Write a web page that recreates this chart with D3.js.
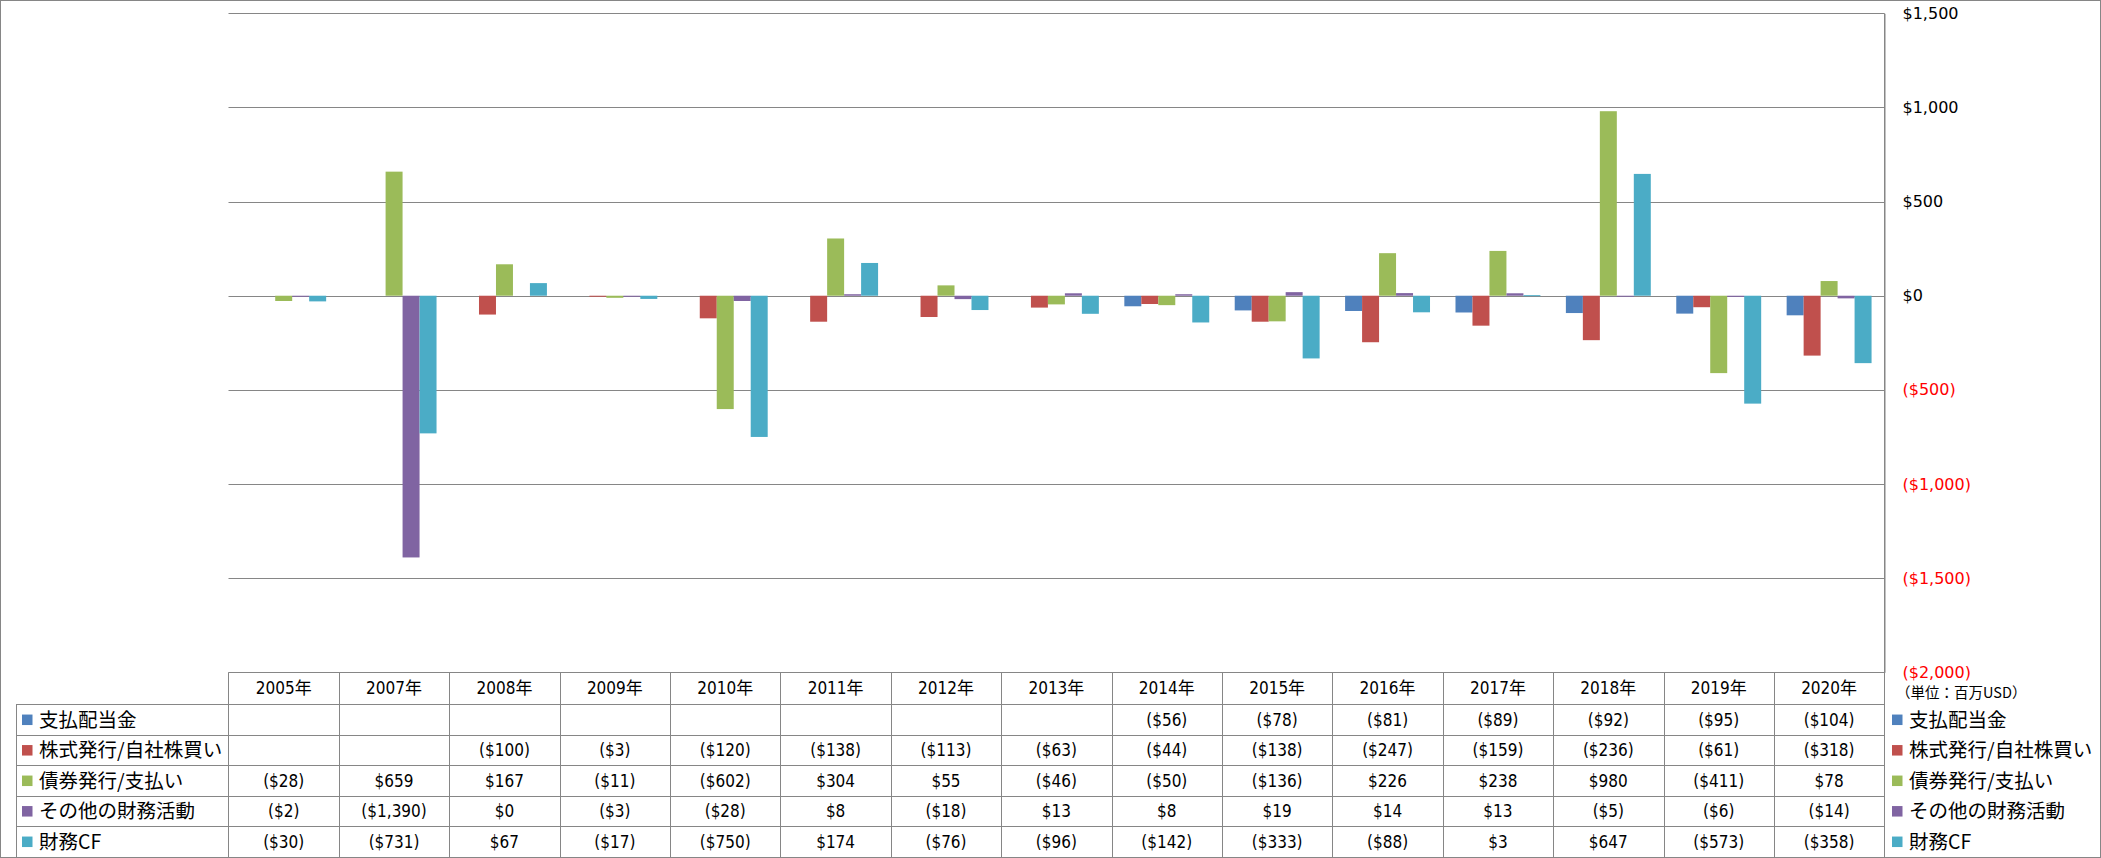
<!DOCTYPE html>
<html>
<head>
<meta charset="utf-8">
<script src="https://cdn.jsdelivr.net/npm/d3@7"></script>
<style>
body { margin: 0; background: #fff; }
svg { display: block; }
</style>
</head>
<body>
<svg></svg>
<script>
// chart values
const years = ['2005年', '2007年', '2008年', '2009年', '2010年', '2011年', '2012年', '2013年',
    '2014年', '2015年', '2016年', '2017年', '2018年', '2019年', '2020年'];
const seriesNames = ['支払配当金', '株式発行/自社株買い', '債券発行/支払い', 'その他の財務活動', '財務CF'];
const dividends = [null, null, null, null, null, null, null, null, -56, -78, -81, -89, -92, -95, -104];
const stockIssue = [null, null, -100, -3, -120, -138, -113, -63, -44, -138, -247, -159, -236, -61, -318];
const debtIssue = [-28, 659, 167, -11, -602, 304, 55, -46, -50, -136, 226, 238, 980, -411, 78];
const otherFinancing = [-2, -1390, 0, -3, -28, 8, -18, 13, 8, 19, 14, 13, -5, -6, -14];
const financingCF = [-30, -731, 67, -17, -750, 174, -76, -96, -142, -333, -88, 3, 647, -573, -358];
const tickValues = [-2000, -1500, -1000, -500, 0, 500, 1000, 1500];
const unitLabel = '（単位：百万USD）';

const seriesValues = [dividends, stockIssue, debtIssue, otherFinancing, financingCF];
const colors = ['#4F81BD', '#C0504D', '#9BBB59', '#8064A2', '#4BACC6'];

let width = 2101;
let height = 858;
let plotLeft = 228.5, plotRight = 1884.3, plotTop = 13.3, plotBottom = 672.3;
let headerBottom = 704.3;
let rowH = 30.5;
let gridColor = '#868686';
let narrow = '"Liberation Sans Narrow", "DejaVu Sans Condensed", "Noto Sans CJK JP", sans-serif';
let cjk = '"Noto Sans CJK JP", sans-serif';

let svg = d3.select('svg')
    .attr('width', width)
    .attr('height', height);

// outer frame
svg.append('rect')
    .attr('x', 0.5).attr('y', 0.5)
    .attr('width', width - 1).attr('height', height - 1)
    .attr('fill', 'none')
    .attr('stroke', gridColor);

// scales (Excel style gap width 150%)
let gap = 1.5 / 6.5;
let x = d3.scaleBand()
    .domain(years)
    .range([plotLeft, plotRight])
    .paddingInner(gap)
    .paddingOuter(gap / 2);
let xs = d3.scaleBand()
    .domain(d3.range(seriesNames.length))
    .range([0, x.bandwidth()]);
let y = d3.scaleLinear()
    .domain([-2000, 1500])
    .range([plotBottom, plotTop]);

// gridlines
svg.append('g')
    .selectAll('line')
    .data(tickValues)
    .enter()
    .append('line')
    .attr('x1', plotLeft).attr('x2', plotRight)
    .attr('y1', d => Math.round(y(d)) + 0.5)
    .attr('y2', d => Math.round(y(d)) + 0.5)
    .attr('stroke', gridColor);

// bars
let rows = years.map((yr, i) => ({ year: yr, values: seriesValues.map(s => s[i]) }));
let group = svg.append('g')
    .selectAll('g')
    .data(rows)
    .enter()
    .append('g')
    .attr('transform', d => `translate(${x(d.year)},0)`);

group.selectAll('rect')
    .data(d => d.values.map((v, j) => ({ v: v, j: j })).filter(e => e.v !== null))
    .enter()
    .append('rect')
    .attr('x', d => xs(d.j))
    .attr('width', xs.bandwidth())
    .attr('y', d => y(Math.max(0, d.v)))
    .attr('height', d => Math.max(Math.abs(y(d.v) - y(0)), d.v === 0 ? 0 : 1))
    .attr('fill', d => colors[d.j]);

// right axis
function money(v) {
    let s = '$' + d3.format(',')(Math.abs(v));
    return v < 0 ? '(' + s + ')' : s;
}
let axis = svg.append('g')
    .attr('transform', `translate(${Math.round(plotRight) + 0.5},0)`)
    .call(d3.axisRight(y).tickValues(tickValues).tickSize(0).tickPadding(18).tickFormat(money));
axis.select('.domain').attr('stroke', gridColor);
axis.selectAll('text')
    .attr('font-family', '"DejaVu Sans", Verdana, sans-serif')
    .attr('font-size', 16)
    .attr('fill', d => d < 0 ? '#FF0000' : '#000');

svg.append('text')
    .attr('x', 1896)
    .attr('y', 693)
    .attr('dy', '0.36em')
    .attr('font-family', cjk)
    .attr('font-size', 14.5)
    .text(unitLabel);

// data table
let table = svg.append('g');
let labelLeft = 16;
let rowTop = i => headerBottom + rowH * i;

// horizontal lines
table.selectAll('line.h')
    .data(d3.range(seriesNames.length + 1))
    .enter()
    .append('line')
    .attr('x1', labelLeft).attr('x2', plotRight)
    .attr('y1', i => Math.round(rowTop(i)) + 0.5)
    .attr('y2', i => Math.round(rowTop(i)) + 0.5)
    .attr('stroke', gridColor);

// vertical lines
let colEdges = years.map(yr => x(yr) - x.step() * gap / 2).concat([plotRight]);
table.selectAll('line.v')
    .data(colEdges)
    .enter()
    .append('line')
    .attr('x1', d => Math.round(d) + 0.5).attr('x2', d => Math.round(d) + 0.5)
    .attr('y1', (d, i) => i === colEdges.length - 1 ? plotTop : plotBottom)
    .attr('y2', Math.round(rowTop(seriesNames.length)) + 0.5)
    .attr('stroke', gridColor);
table.append('line')
    .attr('x1', labelLeft + 0.5).attr('x2', labelLeft + 0.5)
    .attr('y1', rowTop(0)).attr('y2', Math.round(rowTop(seriesNames.length)) + 0.5)
    .attr('stroke', gridColor);

// header
table.selectAll('text.year')
    .data(years)
    .enter()
    .append('text')
    .attr('x', d => x(d) + x.bandwidth() / 2)
    .attr('y', (plotBottom + headerBottom) / 2)
    .attr('dy', '0.36em')
    .attr('text-anchor', 'middle')
    .attr('font-family', narrow)
    .attr('font-size', 17)
    .text(d => d);

// values
seriesValues.forEach((vals, j) => {
    table.append('g')
        .selectAll('text')
        .data(vals.map((v, i) => ({ v: v, i: i })).filter(e => e.v !== null))
        .enter()
        .append('text')
        .attr('x', d => x(years[d.i]) + x.bandwidth() / 2)
        .attr('y', rowTop(j) + rowH / 2)
        .attr('dy', '0.36em')
        .attr('text-anchor', 'middle')
        .attr('font-family', narrow)
        .attr('font-size', 17)
        .text(d => money(d.v));
});

// row labels inside the table and legend on the right
[labelLeft + 6, 1892].forEach(x0 => {
    let key = table.append('g')
        .selectAll('g')
        .data(seriesNames)
        .enter()
        .append('g')
        .attr('transform', (d, j) => `translate(${x0},${rowTop(j) + rowH / 2})`);
    key.append('rect')
        .attr('x', 0).attr('y', -5)
        .attr('width', 10.5).attr('height', 10.5)
        .attr('fill', (d, j) => colors[j]);
    key.append('text')
        .attr('x', 17)
        .attr('dy', '0.36em')
        .attr('font-family', cjk)
        .attr('font-size', 19.5)
        .text(d => d);
});
</script>
</body>
</html>
